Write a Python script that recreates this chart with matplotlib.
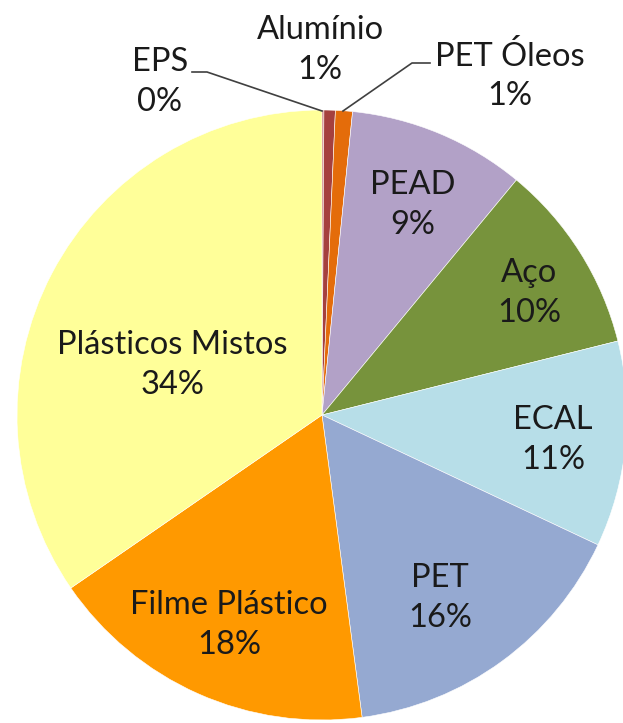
import numpy as np
import matplotlib.pyplot as plt

plt.rcParams['font.family'] = ['Lato', 'DejaVu Sans']

# Material shares (%), clockwise from 12 o'clock
materials = ['EPS', 'Alumínio', 'PET Óleos', 'PEAD', 'Aço', 'ECAL', 'PET',
             'Filme Plástico', 'Plásticos Mistos']
shares = [0.1, 0.6, 0.9, 9.4, 10.1, 10.9, 15.9, 17.5, 34.6]
pct_labels = ['0%', '1%', '1%', '9%', '10%', '11%', '16%', '18%', '34%']
colors = ['#C0504D', '#A5403E', '#E46C0A', '#B2A1C7', '#77933C', '#B7DEE8',
          '#95A9D1', '#FF9900', '#FFFF99']

W, H = 623, 723
cx, cy, R = 322, H - 415, 305

fig = plt.figure(figsize=(W / 100, H / 100), dpi=100)
ax = fig.add_axes([0, 0, 1, 1])

ax.pie(shares, colors=colors, startangle=90, counterclock=False,
       center=(cx, cy), radius=R, frame=True,
       wedgeprops=dict(edgecolor='white', linewidth=0.4))
ax.set_xlim(0, W)
ax.set_ylim(0, H)
ax.set_aspect('equal')
ax.axis('off')

# label centres in pixel coordinates (top-left origin)
label_pos = [(160, 82), (320, 50), (510, 76), (413, 205), (529, 293),
             (553, 440), (440, 598), (229, 625), (172, 365)]

for name, pct, (lx, ly) in zip(materials, pct_labels, label_pos):
    ax.text(lx, H - ly, f'{name}\n{pct}', ha='center', va='center',
            fontsize=23.5, color='#1a1a1a', linespacing=1.4)

# leader lines for the small slices
ax.plot([192, 207, 322], [H - 72, H - 72, H - 111], color='#404040', lw=1.2)
ax.plot([430, 412, 343], [H - 63, H - 63, H - 111], color='#404040', lw=1.2)

fig.savefig('out.png', dpi=100)
